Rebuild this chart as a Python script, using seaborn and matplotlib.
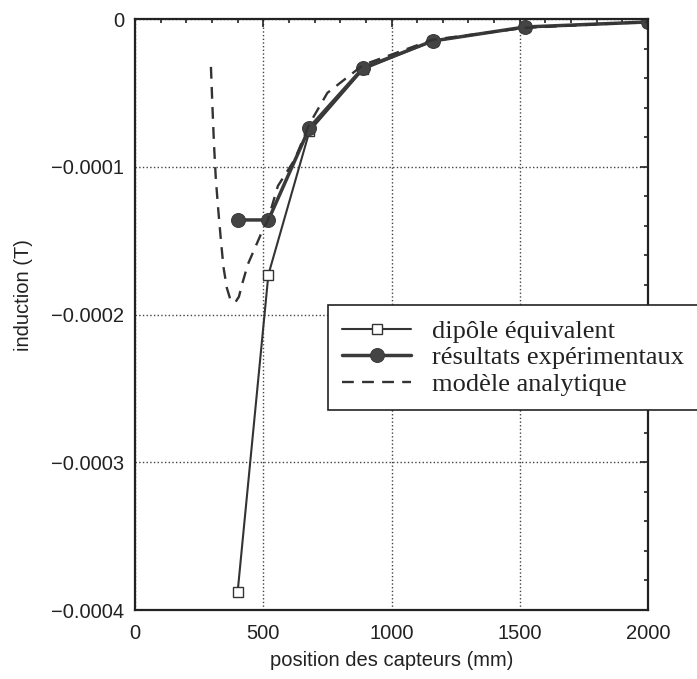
import matplotlib

matplotlib.use("Agg")
import matplotlib.pyplot as plt
from matplotlib.ticker import FuncFormatter, MultipleLocator

import pandas as pd

import seaborn as sns

# positions (mm) and induction values (T)
exp_x = [400, 520, 680, 890, 1160, 1520, 2000]
exp_y = [-0.000136, -0.000136, -0.0000736, -0.000033, -0.0000149, -0.0000054, -0.000002]

dip_x = [400, 520, 680, 890, 1160, 1520, 2000]
dip_y = [-0.000388, -0.000173, -0.000076, -0.000034, -0.000015, -0.0000055, -0.000002]

ana_x = [296, 302, 308, 315, 325, 335, 345, 358, 372, 390, 405, 420, 440, 465, 490, 518, 557, 623, 680, 750, 890, 1160, 1520, 2000]
ana_y = [-0.0000324, -0.00006, -0.000085, -0.000108, -0.00013, -0.00015, -0.000168, -0.000182, -0.00019,
         -0.000192, -0.000188, -0.000178, -0.000166, -0.000156, -0.000146, -0.000136, -0.000113, -0.000095,
         -0.000071, -0.00005, -0.000031, -0.000014, -0.000006, -0.000002]

sns.set_theme(style="white")
plt.rcParams["font.family"] = ["Liberation Sans", "DejaVu Sans"]


def fmt_y(v, pos):
    if abs(v) < 1e-12:
        return "0"
    return ("%.4f" % v).replace("-", "\u2212")


fig = plt.figure(figsize=(6.97, 6.79), dpi=100)
ax = fig.add_axes([0.1937, 0.1016, 0.7360, 0.8704])

dip_df = pd.DataFrame({"x": dip_x, "y": dip_y})
exp_df = pd.DataFrame({"x": exp_x, "y": exp_y})
ana_df = pd.DataFrame({"x": ana_x, "y": ana_y})

sns.lineplot(data=dip_df, x="x", y="y", ax=ax, color="#333333", linewidth=1.5,
             marker="s", markersize=7, markerfacecolor="white", markeredgecolor="#333333",
             markeredgewidth=1.0, sort=False, estimator=None, label="dipôle équivalent")
sns.lineplot(data=exp_df, x="x", y="y", ax=ax, color="#3a3a3a", linewidth=2.5,
             marker="o", markersize=10, markerfacecolor="#444444", markeredgecolor="#3a3a3a",
             sort=False, estimator=None, label="résultats expérimentaux")
sns.lineplot(data=ana_df, x="x", y="y", ax=ax, color="#333333", linewidth=1.7,
             linestyle=(0, (5, 3.5)), sort=False, estimator=None, label="modèle analytique")

ax.set_xlim(0, 2000)
ax.set_ylim(-0.0004, 0)
ax.xaxis.set_major_locator(MultipleLocator(500))
ax.xaxis.set_minor_locator(MultipleLocator(100))
ax.yaxis.set_major_locator(MultipleLocator(0.0001))
ax.yaxis.set_minor_locator(MultipleLocator(0.00002))
ax.yaxis.set_major_formatter(FuncFormatter(fmt_y))

ax.tick_params(which="both", direction="in", top=True, right=True, colors="#222222",
               labelsize=14.5)
ax.tick_params(axis="x", pad=10)
ax.tick_params(axis="y", pad=8)
ax.tick_params(which="major", length=6, width=1.2)
ax.tick_params(which="minor", length=3, width=1.2)
ax.grid(True, which="major", linestyle=":", color="#444444", linewidth=1.0)
for s in ax.spines.values():
    s.set_color("#222222")
    s.set_linewidth(1.6)

ax.set_xlabel("position des capteurs (mm)", fontsize=14.5, color="#222222", labelpad=6)
ax.set_ylabel("induction (T)", fontsize=14.5, color="#222222")
ax.yaxis.set_label_coords(-0.198, 0.533)

leg = ax.legend(loc="upper left", bbox_to_anchor=(0.376, 0.516), frameon=True, fancybox=False,
                prop={"family": "Liberation Serif", "size": 19}, handlelength=2.6,
                borderpad=0.55, labelspacing=0.11, handletextpad=0.8, borderaxespad=0)
leg.get_frame().set_edgecolor("#222222")
leg.get_frame().set_linewidth(1.2)
leg.get_frame().set_alpha(1)
for t in leg.get_texts():
    t.set_color("#222222")

fig.savefig("out.png", dpi=100)
